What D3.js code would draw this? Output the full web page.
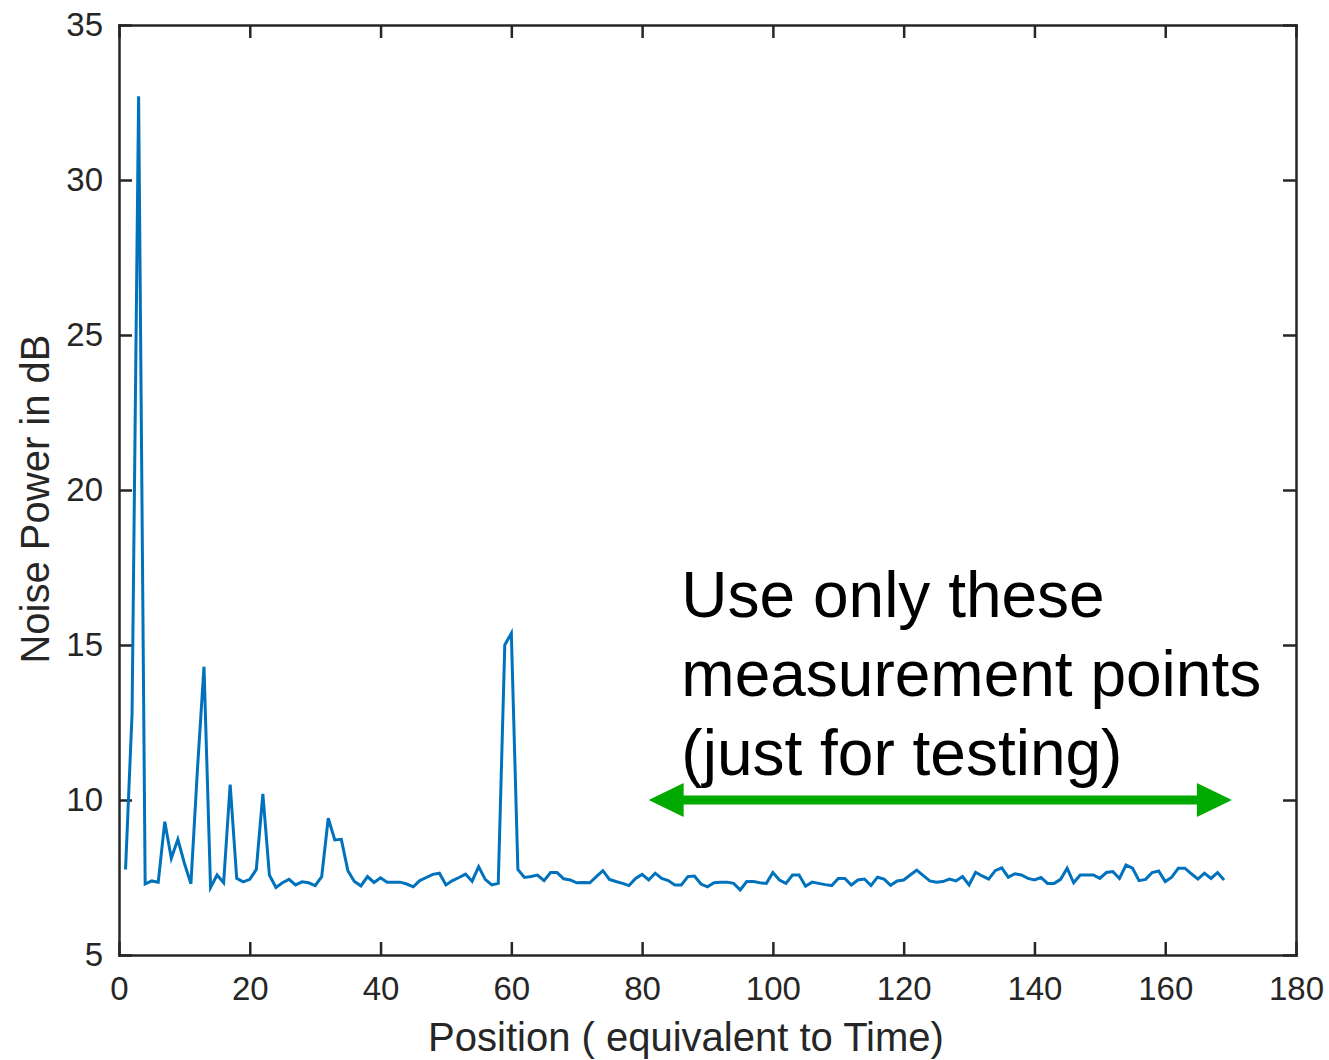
<!DOCTYPE html>
<html>
<head>
<meta charset="utf-8">
<script src="https://cdn.jsdelivr.net/npm/d3@7"></script>
<style>
  body { margin: 0; background: #fff; }
  svg { display: block; font-family: 'Liberation Sans', Arial, Helvetica, sans-serif; }
  .axis path, .axis line { stroke: #262626; stroke-width: 2.5; }
  .axis text { fill: #262626; font-size: 33px; }
</style>
</head>
<body>
<svg id="chart"></svg>
<script>
const positions = d3.range(1, 170);
const noisePower = [
  7.76, 12.8, 32.7, 7.29, 7.39, 7.35, 9.3, 8.12, 8.73, 7.96,
  7.3, 11.0, 14.3, 7.18, 7.58, 7.33, 10.5, 7.47, 7.36, 7.44,
  7.76, 10.2, 7.58, 7.18, 7.33, 7.44, 7.26, 7.36, 7.33, 7.24,
  7.53, 9.41, 8.71, 8.73, 7.72, 7.37, 7.23, 7.53, 7.34, 7.49,
  7.35, 7.35, 7.35, 7.29, 7.2, 7.4, 7.5, 7.6, 7.64, 7.26,
  7.4, 7.5, 7.61, 7.38, 7.85, 7.44, 7.26, 7.31, 15.0, 15.38,
  7.76, 7.5, 7.53, 7.58, 7.4, 7.66, 7.66, 7.46, 7.42, 7.33,
  7.34, 7.33, 7.53, 7.72, 7.44, 7.37, 7.31, 7.24, 7.47, 7.6,
  7.42, 7.64, 7.47, 7.4, 7.26, 7.26, 7.53, 7.55, 7.29, 7.2,
  7.33, 7.35, 7.35, 7.31, 7.1, 7.37, 7.37, 7.33, 7.31, 7.66,
  7.42, 7.31, 7.58, 7.58, 7.22, 7.35, 7.31, 7.27, 7.24, 7.47,
  7.47, 7.26, 7.42, 7.45, 7.24, 7.51, 7.45, 7.25, 7.39, 7.42,
  7.58, 7.74, 7.56, 7.39, 7.35, 7.37, 7.45, 7.39, 7.53, 7.26,
  7.67, 7.55, 7.45, 7.72, 7.81, 7.51, 7.62, 7.58, 7.47, 7.42,
  7.5, 7.31, 7.31, 7.44, 7.8, 7.33, 7.58, 7.58, 7.58, 7.47,
  7.66, 7.69, 7.47, 7.9, 7.8, 7.4, 7.44, 7.66, 7.71, 7.37,
  7.51, 7.8, 7.8, 7.62, 7.45, 7.64, 7.47, 7.66, 7.42
];

const xTicks = [0, 20, 40, 60, 80, 100, 120, 140, 160, 180];
const yTicks = [5, 10, 15, 20, 25, 30, 35];

// annotation: range of usable points
const arrowRange = [81, 170.2];
const arrowLevel = 10;
const noteLines = ['Use only these', 'measurement points', '(just for testing)'];

const margin = { top: 25, right: 33, bottom: 105, left: 119 },
  width = 1329 - margin.left - margin.right,
  height = 1060 - margin.top - margin.bottom;

const xScale = d3.scaleLinear().domain([0, 180]).range([0, width]);
const yScale = d3.scaleLinear().domain([5, 35]).range([height, 0]);

const svg = d3
  .select('#chart')
  .attr('width', 1329)
  .attr('height', 1060)
  .append('g')
  .attr('transform', 'translate(' + margin.left + ',' + margin.top + ')');

// bottom + left axes with inward ticks
svg
  .append('g')
  .attr('class', 'axis x-axis')
  .attr('transform', 'translate(0,' + height + ')')
  .call(
    d3
      .axisBottom(xScale)
      .tickValues(xTicks)
      .tickSizeInner(-13)
      .tickSizeOuter(0)
      .tickPadding(22)
  )
  .selectAll('text')
  .attr('dy', '0.71em');

svg
  .append('g')
  .attr('class', 'axis y-axis')
  .call(
    d3
      .axisLeft(yScale)
      .tickValues(yTicks)
      .tickSizeInner(-13)
      .tickSizeOuter(0)
      .tickPadding(16)
  );

// mirrored top + right axes, no labels
svg
  .append('g')
  .attr('class', 'axis')
  .call(
    d3.axisTop(xScale).tickValues(xTicks).tickSizeInner(-13).tickSizeOuter(0).tickFormat('')
  );

svg
  .append('g')
  .attr('class', 'axis')
  .attr('transform', 'translate(' + width + ',0)')
  .call(
    d3.axisRight(yScale).tickValues(yTicks).tickSizeInner(-13).tickSizeOuter(0).tickFormat('')
  );

svg.selectAll('.axis .domain').attr('stroke-linecap', 'square');

const line = d3
  .line()
  .x((d, i) => xScale(positions[i]))
  .y(d => yScale(d));

svg
  .append('path')
  .datum(noisePower)
  .attr('fill', 'none')
  .attr('stroke', '#0072BD')
  .attr('stroke-width', 3)
  .attr('stroke-linejoin', 'miter')
  .attr('d', line);

// green double arrow
const ax0 = xScale(arrowRange[0]),
  ax1 = xScale(arrowRange[1]),
  ay = yScale(arrowLevel),
  headLen = 35,
  headHalf = 17;

svg
  .append('line')
  .attr('x1', ax0 + headLen - 1)
  .attr('x2', ax1 - headLen + 1)
  .attr('y1', ay)
  .attr('y2', ay)
  .attr('stroke', '#00AA00')
  .attr('stroke-width', 9);

svg
  .append('path')
  .attr('fill', '#00AA00')
  .attr(
    'd',
    `M${ax0},${ay}L${ax0 + headLen},${ay - headHalf}L${ax0 + headLen},${ay + headHalf}Z` +
      `M${ax1},${ay}L${ax1 - headLen},${ay - headHalf}L${ax1 - headLen},${ay + headHalf}Z`
  );

svg
  .append('text')
  .attr('x', xScale(86))
  .attr('y', yScale(15.9))
  .attr('fill', '#000')
  .style('font-size', '64px')
  .selectAll('tspan')
  .data(noteLines)
  .enter()
  .append('tspan')
  .attr('x', xScale(86))
  .attr('dy', (d, i) => (i === 0 ? 0 : '1.23em'))
  .text(d => d);

// axis titles
svg
  .append('text')
  .attr('x', 567)
  .attr('y', height + 96)
  .attr('text-anchor', 'middle')
  .attr('fill', '#262626')
  .style('font-size', '40px')
  .text('Position ( equivalent to Time)');

svg
  .append('text')
  .attr('transform', 'translate(-70,' + 474 + ') rotate(-90)')
  .attr('text-anchor', 'middle')
  .attr('fill', '#262626')
  .style('font-size', '40px')
  .text('Noise Power in dB');
</script>
</body>
</html>
